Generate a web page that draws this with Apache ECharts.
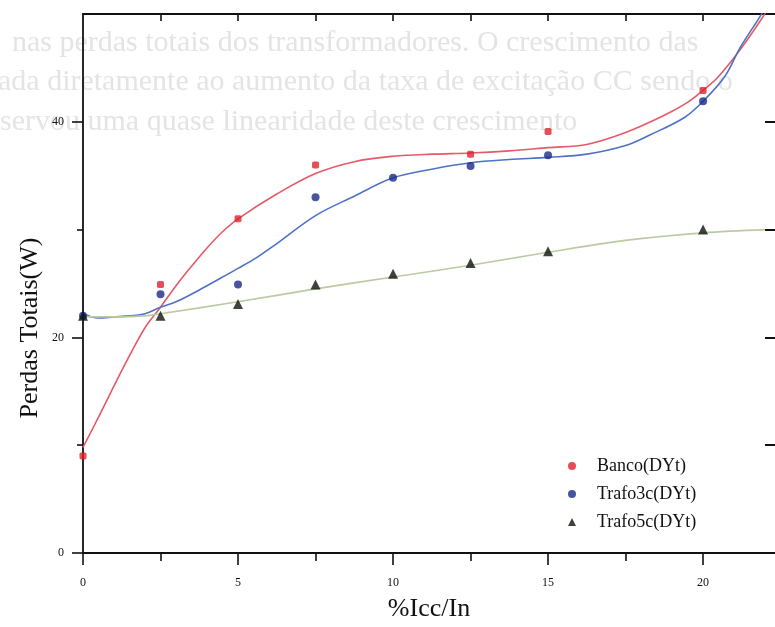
<!DOCTYPE html>
<html>
<head>
<meta charset="utf-8">
<script src="https://cdn.jsdelivr.net/npm/echarts@6/dist/echarts.min.js"></script>
<style>
  html, body { margin: 0; padding: 0; background: #ffffff; }
  #chart { width: 775px; height: 627px; }
</style>
</head>
<body>
<div id="chart"></div>
<script>
// Measured points: total losses (W) against %Icc/In
const bancoX = [0, 2.5, 5, 7.5, 12.5, 15, 20];
const bancoY = [9.0, 24.9, 31.0, 36.0, 37.0, 39.1, 42.9];

const trafo3cX = [0, 2.5, 5, 7.5, 10, 12.5, 15, 20];
const trafo3cY = [22.0, 24.0, 24.9, 33.0, 34.8, 35.9, 36.9, 41.9];

const trafo5cX = [0, 2.5, 5, 7.5, 10, 12.5, 15, 20];
const trafo5cY = [22.0, 22.0, 23.1, 24.9, 25.9, 26.9, 28.0, 30.0];

// Fitted curves through each data set
const bancoFitX = [0, 0.5, 1, 1.5, 2, 2.5, 3, 3.5, 4, 4.5, 5, 6.25, 7.5, 8.75, 10, 11.25, 12.5, 13.75, 15, 16.25, 17.5, 18.75, 19.5, 20, 20.5, 21.2, 21.9, 22.3];
const bancoFitY = [9.8, 12.6, 15.5, 18.3, 20.9, 22.8, 24.8, 26.6, 28.3, 29.8, 31.0, 33.3, 35.2, 36.3, 36.8, 37.0, 37.1, 37.3, 37.6, 37.9, 39.0, 40.6, 41.8, 42.9, 44.2, 46.7, 49.6, 51.5];

const trafo3cFitX = [0, 0.5, 1, 1.5, 2, 2.5, 3, 3.75, 4.5, 5, 5.6, 6.25, 7.5, 8.75, 10, 11.25, 12.5, 13.75, 15, 16.25, 17.5, 18.3, 19.4, 20, 20.7, 21.2, 21.8, 22.2];
const trafo3cFitY = [22.2, 21.8, 21.9, 22.0, 22.2, 22.8, 23.3, 24.4, 25.6, 26.4, 27.4, 28.7, 31.3, 33.1, 34.8, 35.6, 36.2, 36.5, 36.7, 37.0, 37.8, 38.8, 40.4, 41.9, 44.2, 46.9, 49.6, 51.5];

const trafo5cFitX = [0, 1, 2, 2.5, 5, 7.5, 10, 12.5, 15, 17.5, 20, 22];
const trafo5cFitY = [21.9, 21.9, 22.0, 22.2, 23.3, 24.5, 25.6, 26.7, 27.9, 29.0, 29.7, 30.0];

// Axis ticks and labels
const xMajorTicks = [0, 5, 10, 15, 20];
const xMinorTicks = [2.5, 7.5, 12.5, 17.5];
const xTopTicks = [2.5, 5, 7.5, 10, 12.5, 15, 17.5, 20];
const yMajorTicks = [0, 20, 40];
const yMinorTicks = [10, 30];
const yRightTicks = [10, 20, 30, 40];

// the visible part of the frame ends just short of x = 22.5
const xMin = 0, xMax = 22.32, yMin = 0, yMax = 50;

const serif = '"Liberation Serif", "DejaVu Serif", serif';
const black = '#111111';

const pairs = (xs, ys) => xs.map((x, i) => [x, ys[i]]);

function tickAxis(extra) {
  return Object.assign({
    type: 'value',
    splitLine: { show: false },
    axisLine: { show: false },
    axisLabel: { show: false },
    axisTick: { show: false }
  }, extra);
}

const chart = echarts.init(document.getElementById('chart'), null, { renderer: 'canvas' });

// Faint lines of text showing through the page
const backText = [
  { x: 12, y: 45, text: 'nas perdas totais dos transformadores. O crescimento das' },
  { x: -2, y: 84, text: 'ada diretamente ao aumento da taxa de excitação CC sendo o' },
  { x: 0, y: 124, text: 'servou uma quase linearidade deste crescimento' }
];

chart.setOption({
  animation: false,
  backgroundColor: '#ffffff',
  grid: { left: 83, top: 14, bottom: 74, right: 0, containLabel: false },
  graphic: backText.map(t => ({
    type: 'text',
    left: t.x,
    top: t.y - 17,
    z: -10,
    silent: true,
    style: {
      text: t.text,
      fill: '#e4e4e4',
      font: '30px ' + serif
    }
  })).concat([{
    type: 'text',
    x: 30,
    y: 328,
    rotation: Math.PI / 2,
    style: {
      text: 'Perdas Totais(W)',
      fill: black,
      font: '26px ' + serif,
      align: 'center',
      verticalAlign: 'middle'
    }
  }]),
  legend: {
    orient: 'vertical',
    left: 563,
    top: 451,
    itemWidth: 8,
    itemHeight: 8,
    itemGap: 8,
    textStyle: {
      fontFamily: serif,
      fontSize: 18,
      color: black,
      lineHeight: 20,
      padding: [0, 0, 0, 16]
    },
    data: [
      { name: 'Banco(DYt)', icon: 'circle' },
      { name: 'Trafo3c(DYt)', icon: 'circle' },
      { name: 'Trafo5c(DYt)', icon: 'triangle' }
    ]
  },
  xAxis: [
    tickAxis({
      min: xMin, max: xMax, position: 'bottom',
      axisLine: { show: true, onZero: false, lineStyle: { color: black, width: 1.8 } },
      axisTick: { show: true, customValues: xMajorTicks, length: 12, lineStyle: { color: black, width: 1.6 } },
      axisLabel: { show: true, customValues: xMajorTicks, margin: 24, fontFamily: serif, fontSize: 12, color: black },
      name: '%Icc/In',
      nameLocation: 'middle',
      nameGap: 43,
      nameTextStyle: { fontFamily: serif, fontSize: 26, color: black }
    }),
    tickAxis({
      min: xMin, max: xMax, position: 'bottom',
      axisTick: { show: true, customValues: xMinorTicks, length: 8, lineStyle: { color: black, width: 1.6 } }
    }),
    tickAxis({
      min: xMin, max: xMax, position: 'top',
      axisLine: { show: true, onZero: false, lineStyle: { color: black, width: 1.8 } },
      axisTick: { show: true, inside: true, customValues: xTopTicks, length: 7, lineStyle: { color: black, width: 1.6 } }
    })
  ],
  yAxis: [
    tickAxis({
      min: yMin, max: yMax, position: 'left',
      axisLine: { show: true, onZero: false, lineStyle: { color: black, width: 1.8 } },
      axisTick: { show: true, customValues: yMajorTicks, length: 11, lineStyle: { color: black, width: 1.6 } },
      axisLabel: { show: true, customValues: yMajorTicks, margin: 19, fontFamily: serif, fontSize: 12, color: black }
    }),
    tickAxis({
      min: yMin, max: yMax, position: 'left',
      axisTick: { show: true, customValues: yMinorTicks, length: 6, lineStyle: { color: black, width: 1.6 } }
    }),
    tickAxis({
      min: yMin, max: yMax, position: 'right',
      axisLine: { show: true, onZero: false, lineStyle: { color: black, width: 0, opacity: 0 } },
      axisTick: { show: true, inside: true, customValues: yRightTicks, length: 10, lineStyle: { color: black, width: 2 } }
    })
  ],
  series: [
    {
      name: 'Banco(DYt) ajuste',
      type: 'line',
      smooth: 0.35,
      showSymbol: false,
      clip: true,
      z: 2,
      lineStyle: { color: '#e45a68', width: 1.6 },
      data: pairs(bancoFitX, bancoFitY)
    },
    {
      name: 'Trafo3c(DYt) ajuste',
      type: 'line',
      smooth: 0.35,
      showSymbol: false,
      clip: true,
      z: 2,
      lineStyle: { color: '#4d72c6', width: 1.6 },
      data: pairs(trafo3cFitX, trafo3cFitY)
    },
    {
      name: 'Trafo5c(DYt) ajuste',
      type: 'line',
      smooth: 0.35,
      showSymbol: false,
      clip: true,
      z: 2,
      lineStyle: { color: '#bccaa2', width: 1.6 },
      data: pairs(trafo5cFitX, trafo5cFitY)
    },
    {
      name: 'Banco(DYt)',
      type: 'scatter',
      symbol: 'roundRect',
      symbolSize: 7,
      z: 4,
      itemStyle: { color: '#e0202c' },
      data: pairs(bancoX, bancoY)
    },
    {
      name: 'Trafo3c(DYt)',
      type: 'scatter',
      symbol: 'circle',
      symbolSize: 8,
      z: 5,
      itemStyle: { color: '#1a2a86' },
      data: pairs(trafo3cX, trafo3cY)
    },
    {
      name: 'Trafo5c(DYt)',
      type: 'scatter',
      symbol: 'triangle',
      symbolSize: 10,
      z: 6,
      itemStyle: { color: '#0c140c' },
      data: pairs(trafo5cX, trafo5cY)
    }
  ]
});
</script>
</body>
</html>
